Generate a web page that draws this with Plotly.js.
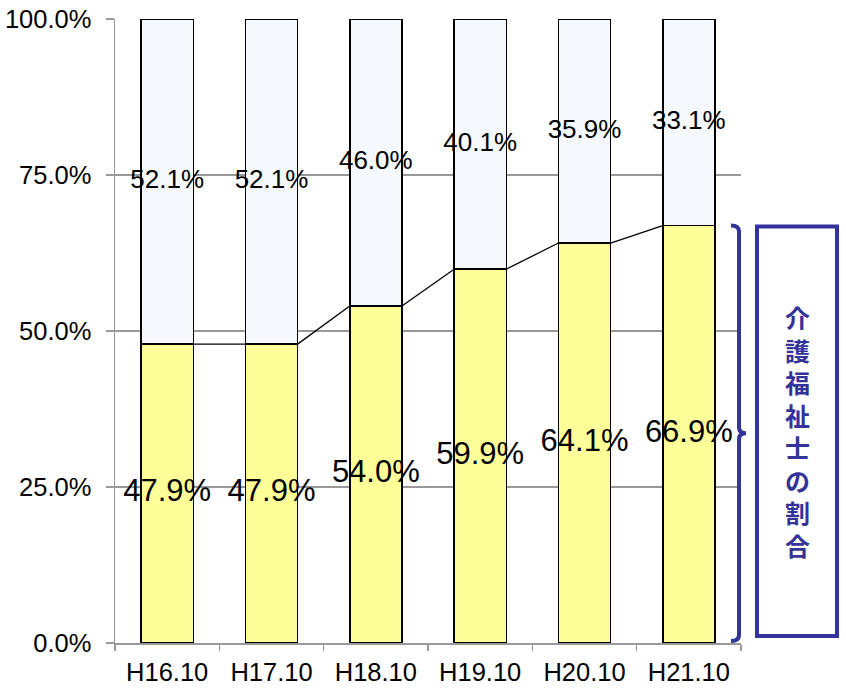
<!DOCTYPE html>
<html>
<head>
<meta charset="utf-8">
<script src="https://cdn.plot.ly/plotly-3.0.1.min.js"></script>
<style>html,body{margin:0;padding:0;background:#fff;}#chart{width:846px;height:692px;}</style>
</head>
<body>
<div id="chart"></div>
<script>
// ---- data ----
const categories = ["H16.10", "H17.10", "H18.10", "H19.10", "H20.10", "H21.10"];
const careWorkerShare = [47.9, 47.9, 54.0, 59.9, 64.1, 66.9];   // 介護福祉士
const otherShare      = [52.1, 52.1, 46.0, 40.1, 35.9, 33.1];
const yTicks = [0, 25, 50, 75, 100];
const bracketLabel = "介護福祉士の割合";

// ---- layout constants ----
const W = 846, H = 692, ML = 115, MR = 105, MT = 19, MB = 49;
const PW = W - ML - MR, PH = H - MT - MB;
const px = x => (x - ML) / PW;
const py = y => (H - MB - y) / PH;
const font = "Liberation Sans, Arial, sans-serif";
const navy = "#333399";
const barW = 0.5;

const traces = [
  {
    type: "bar", x: categories, y: careWorkerShare, width: barW,
    marker: {color: "#FFFF99", line: {color: "#000", width: 1.5}},
    hoverinfo: "skip", cliponaxis: false
  },
  {
    type: "bar", x: categories, y: otherShare, width: barW,
    marker: {color: "#F5F9FB", line: {color: "#000", width: 1.5}},
    hoverinfo: "skip", cliponaxis: false
  },
  {
    type: "scatter", mode: "text", x: categories,
    y: careWorkerShare.map((v, i) => v + otherShare[i] / 2),
    text: otherShare.map(v => v.toFixed(1) + "%"),
    textfont: {family: font, size: 26, color: "#000"},
    textposition: "middle center", hoverinfo: "skip", cliponaxis: false
  },
  {
    type: "scatter", mode: "text", x: categories,
    y: careWorkerShare.map(v => v / 2),
    text: careWorkerShare.map(v => v.toFixed(1) + "%"),
    textfont: {family: font, size: 31, color: "#000"},
    textposition: "middle center", hoverinfo: "skip", cliponaxis: false
  }
];

// series lines between neighbouring bars (numeric overlay axis)
const lx = [], ly = [];
for (let i = 0; i < categories.length - 1; i++) {
  lx.push(i + barW / 2, i + 1 - barW / 2, null);
  ly.push(careWorkerShare[i], careWorkerShare[i + 1], null);
}
traces.push({
  type: "scatter", mode: "lines", x: lx, y: ly, xaxis: "x2",
  line: {color: "#000", width: 1.3}, hoverinfo: "skip", connectgaps: false
});

const topV = careWorkerShare[careWorkerShare.length - 1];
const yTopPx = H - MB - topV / 100 * PH;
const yBotPx = H - MB - 2;
const yMid = (yTopPx + yBotPx) / 2;
const bracketPath =
  `M ${px(731)} ${py(yTopPx)} Q ${px(739)} ${py(yTopPx)} ${px(739)} ${py(yTopPx + 6)} ` +
  `L ${px(739)} ${py(yMid - 6)} Q ${px(739)} ${py(yMid)} ${px(746)} ${py(yMid)} ` +
  `Q ${px(739)} ${py(yMid)} ${px(739)} ${py(yMid + 6)} ` +
  `L ${px(739)} ${py(yBotPx - 6)} Q ${px(739)} ${py(yBotPx)} ${px(731)} ${py(yBotPx)}`;

const layout = {
  width: W, height: H, autosize: false,
  margin: {l: ML, r: MR, t: MT, b: MB, pad: 0},
  paper_bgcolor: "#fff", plot_bgcolor: "#fff",
  barmode: "stack", showlegend: false,
  font: {family: font, color: "#000"},
  xaxis: {
    type: "category", range: [-0.5, categories.length - 0.5],
    showline: true, linecolor: "#999", linewidth: 1.5,
    ticks: "outside", tickson: "boundaries", ticklen: 6, tickcolor: "#999", tickwidth: 1.5,
    showgrid: false, tickfont: {family: font, size: 25.5, color: "#000"},
    ticklabelstandoff: 6, fixedrange: true
  },
  xaxis2: {
    overlaying: "x", range: [-0.5, categories.length - 0.5], visible: false, fixedrange: true
  },
  yaxis: {
    range: [0, 100], tickvals: yTicks, ticktext: yTicks.map(v => v.toFixed(1) + "%"),
    showline: true, linecolor: "#999", linewidth: 1.5,
    ticks: "outside", ticklen: 8, tickcolor: "#999", tickwidth: 1.5,
    showgrid: true, gridcolor: "#999", gridwidth: 1.3, zeroline: false,
    tickfont: {family: font, size: 25.5, color: "#000"},
    ticklabelstandoff: 9, fixedrange: true
  },
  shapes: [
    {type: "path", xref: "paper", yref: "paper", path: bracketPath,
     line: {color: navy, width: 4}},
    {type: "rect", xref: "paper", yref: "paper",
     x0: px(757), x1: px(837), y0: py(yTopPx + 1), y1: py(636),
     line: {color: navy, width: 4}, fillcolor: "#fff"}
  ],
  annotations: [
    {xref: "paper", yref: "paper", x: px(797), y: py(431),
     text: "<b>" + bracketLabel.split("").join("<br>") + "</b>",
     showarrow: false, xanchor: "center", yanchor: "middle", align: "center",
     font: {family: "Noto Sans CJK JP", size: 25, color: navy}}
  ]
};

Plotly.newPlot("chart", traces, layout, {displayModeBar: false, staticPlot: true});
</script>
</body>
</html>
